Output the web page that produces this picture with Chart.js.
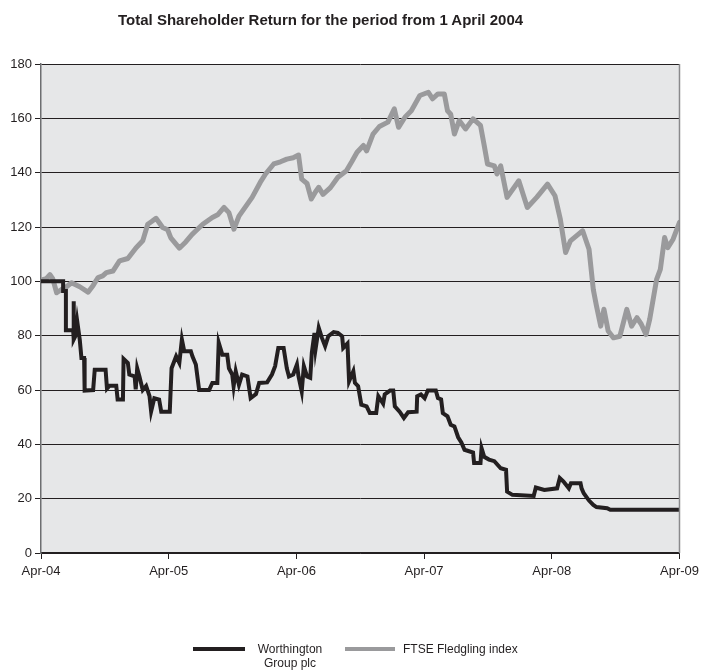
<!DOCTYPE html>
<html>
<head>
<meta charset="utf-8">
<script src="https://cdn.jsdelivr.net/npm/chart.js@4/dist/chart.umd.min.js"></script>
<style>
  html, body { margin: 0; padding: 0; background: #fff; }
  #wrap { position: relative; width: 704px; height: 670px; font-family: "Liberation Sans", Arial, sans-serif; color: #231f20; }
  #c { position: absolute; left: 0; top: 0; }
  #title { position: absolute; left: 118px; top: 11px; font-weight: bold; font-size: 15px; white-space: nowrap; }
  .sw { position: absolute; height: 4px; }
  .lt { position: absolute; font-size: 12px; line-height: 14px; white-space: nowrap; }
</style>
</head>
<body>
<div id="wrap">
  <canvas id="c" width="704" height="670"></canvas>
  <div id="title">Total Shareholder Return for the period from 1 April 2004</div>
  <div class="sw" style="left:193px;top:647px;width:52px;background:#231f20"></div>
  <div class="lt" style="left:249px;top:642px;width:82px;text-align:center">Worthington<br>Group plc</div>
  <div class="sw" style="left:345px;top:647px;width:50px;background:#9a9a9c"></div>
  <div class="lt" style="left:403px;top:642px">FTSE Fledgling index</div>
</div>
<script>
// x values are months since 1 April 2004
const tickLabels = ['Apr-04', 'Apr-05', 'Apr-06', 'Apr-07', 'Apr-08', 'Apr-09'];
const yTicks = [0, 20, 40, 60, 80, 100, 120, 140, 160, 180];

const worthMonths = [0, 2.08, 2.08, 2.34, 2.34, 3.02, 3.05, 3.1, 3.25, 3.4, 3.64, 3.8, 4.05, 4.1, 4.9, 5.05, 6.07, 6.2, 6.45, 7.07, 7.2, 7.7, 7.76, 8.16, 8.3, 8.8, 8.9, 9.04, 9.25, 9.56, 9.88, 10.2, 10.35, 10.65, 11.1, 11.3, 12.1, 12.27, 12.7, 13, 13.24, 13.46, 14.08, 14.23, 14.55, 14.86, 15.8, 16.1, 16.57, 16.7, 17.04, 17.5, 17.66, 17.97, 18.1, 18.3, 18.6, 18.9, 19.4, 19.7, 20.2, 20.5, 21.25, 21.7, 22, 22.3, 22.8, 23.1, 23.3, 23.7, 24.05, 24.2, 24.5, 24.7, 25, 25.3, 25.45, 25.7, 25.8, 26.1, 26.4, 26.7, 27, 27.5, 27.9, 28.3, 28.4, 28.8, 28.95, 29.35, 29.5, 29.8, 30.1, 30.6, 30.9, 31.5, 31.7, 32.15, 32.3, 32.8, 33.1, 33.25, 33.7, 34.1, 34.5, 35.3, 35.35, 35.7, 36.05, 36.35, 37.1, 37.3, 37.6, 37.76, 38.2, 38.5, 38.85, 39.2, 39.5, 39.8, 40.6, 40.7, 41.3, 41.4, 41.65, 42.1, 42.6, 43.2, 43.7, 43.8, 44.3, 46.3, 46.5, 47.3, 48.5, 48.75, 49.1, 49.6, 49.8, 50.7, 50.8, 51, 51.5, 51.9, 52.2, 53.2, 53.5, 60];
const worthValues = [100, 100, 96.4, 96.4, 82, 82, 92.7, 78.6, 80, 85.4, 78.6, 71.8, 71.8, 59.8, 60, 67.5, 67.5, 60.5, 61.6, 61.6, 56.5, 56.5, 71.5, 70, 65.7, 65, 60.2, 68, 65, 60, 61.5, 57.7, 52.1, 57, 56.5, 52, 52, 68, 72.4, 70, 78.6, 74.3, 74.3, 72.4, 69.4, 60, 60, 62.6, 62.6, 77.4, 73, 73, 68, 65.7, 61.4, 66.9, 61.9, 65.7, 65, 57, 58.5, 62.6, 62.8, 65.7, 68.8, 75.5, 75.5, 68, 65, 65.7, 69.4, 65, 59.5, 68.8, 65, 64.5, 73.7, 81, 75, 82.9, 79.2, 76.1, 79.8, 81.3, 81, 79.8, 75.5, 77.1, 63.2, 66.9, 62.6, 61.4, 54.6, 54, 51.5, 51.5, 57.7, 55, 58.4, 59.8, 59.8, 54, 52, 49.7, 51.8, 52, 57.7, 58.4, 57, 59.8, 59.8, 57, 56.5, 51.5, 50.3, 47.2, 46.6, 42.6, 40.7, 38, 37, 33.1, 33.1, 38.6, 35.4, 34.4, 33.8, 31.2, 30.6, 22.6, 21.4, 21, 24.1, 23.2, 23.8, 27.6, 26.3, 23.8, 25.7, 25.7, 23.8, 22, 19.3, 17.7, 16.9, 16.5, 15.9, 15.9];

const ftseMonths = [0, 0.5, 0.84, 1.1, 1.47, 1.93, 2.4, 2.87, 3.64, 4.42, 4.9, 5.36, 5.8, 6.14, 6.76, 7.38, 8.16, 8.94, 9.56, 10.03, 10.4, 10.81, 11.43, 11.9, 12.2, 13, 13.6, 14.2, 15.2, 16.1, 16.6, 17.2, 17.66, 18.13, 18.6, 19.84, 20.6, 21.1, 21.87, 22.5, 23.1, 23.7, 24.2, 24.5, 25, 25.4, 25.8, 26.1, 26.5, 27.2, 27.9, 28.7, 29.2, 29.7, 30.3, 30.6, 31.2, 31.8, 32.6, 33.2, 33.6, 34.2, 34.8, 35.6, 36.4, 36.8, 37.3, 37.9, 38.2, 38.5, 38.85, 39.3, 39.9, 40.6, 41.3, 41.65, 41.96, 42.6, 42.85, 43.2, 43.8, 44.9, 45.7, 46.6, 47.6, 48.3, 48.8, 49.3, 49.75, 50.4, 50.9, 51.5, 51.9, 52.2, 52.6, 52.9, 53.3, 53.8, 54.4, 55.05, 55.5, 56, 56.4, 56.85, 57.2, 57.85, 58.2, 58.6, 58.9, 59.4, 60];
const ftseValues = [100.5, 101, 102.5, 101, 95.8, 97, 98, 99.5, 98, 96, 98.5, 101.4, 102, 103.2, 103.8, 107.5, 108.4, 112.4, 114.9, 121, 122, 123.2, 119.8, 119, 116, 112.2, 114.5, 117.3, 121, 123.5, 124.5, 127.2, 125.3, 119.2, 124, 130.9, 136.4, 139.5, 143.2, 144, 145, 145.5, 146.5, 137.6, 136, 130.3, 133, 134.6, 132, 134.5, 138.3, 140.7, 144, 147.5, 150, 148, 154.2, 157, 158.6, 163.5, 156.7, 160.4, 162.8, 168.4, 169.6, 167.2, 169, 169, 162.8, 161.5, 154.2, 159.2, 156.1, 159.8, 157.4, 150, 143.2, 142.5, 139.5, 142.5, 130.9, 137, 127.2, 131, 135.8, 131.5, 122.9, 110.6, 114.9, 117, 118.6, 111.8, 97, 90.9, 83.5, 89.7, 81.7, 79.2, 79.8, 89.7, 83.5, 86.6, 84.3, 80.4, 86, 100.7, 104.4, 116.1, 112.4, 115.5, 121.7];

const toPoints = (xs, ys) => xs.map((x, i) => ({ x: x, y: ys[i] }));

const plotBg = {
  id: 'plotBg',
  beforeDraw(chart) {
    const { ctx, chartArea: a } = chart;
    ctx.save();
    ctx.fillStyle = '#e6e7e8';
    ctx.fillRect(a.left, a.top, a.right - a.left, a.bottom - a.top);
    ctx.restore();
  },
  afterDatasetsDraw(chart) {
    const { ctx, chartArea: a } = chart;
    ctx.save();
    ctx.strokeStyle = '#8a8a8c';
    ctx.lineWidth = 1.5;
    ctx.beginPath();
    ctx.moveTo(a.right, a.top);
    ctx.lineTo(a.right, a.bottom);
    ctx.stroke();
    ctx.restore();
  }
};

new Chart(document.getElementById('c'), {
  type: 'line',
  data: {
    datasets: [
      {
        label: 'Worthington Group plc',
        data: toPoints(worthMonths, worthValues),
        borderColor: '#231f20',
        borderWidth: 4,
        pointRadius: 0,
        tension: 0,
        fill: false
      },
      {
        label: 'FTSE Fledgling index',
        data: toPoints(ftseMonths, ftseValues),
        borderColor: '#9a9a9c',
        borderWidth: 5,
        borderJoinStyle: 'round',
        borderCapStyle: 'round',
        pointRadius: 0,
        tension: 0,
        fill: false
      }
    ]
  },
  options: {
    responsive: false,
    animation: false,
    events: [],
    layout: { padding: { top: 64, right: 21, left: 0, bottom: 0 } },
    plugins: { legend: { display: false }, title: { display: false }, tooltip: { enabled: false } },
    scales: {
      x: {
        type: 'linear',
        min: 0,
        max: 60,
        afterFit(s) { s.height = 117; },
        afterBuildTicks(s) { s.ticks = tickLabels.map((_, i) => ({ value: i * 12 })); },
        ticks: {
          callback: (v) => tickLabels[Math.round(v / 12)],
          font: { family: '"Liberation Sans", Arial, sans-serif', size: 13 },
          color: '#231f20',
          maxRotation: 0,
          autoSkip: false,
          padding: 5
        },
        grid: { display: true, drawOnChartArea: false, drawTicks: true, tickLength: 6, tickColor: '#231f20', tickWidth: 1 },
        border: { display: true, color: '#231f20', width: 1.5 }
      },
      y: {
        min: 0,
        max: 180,
        afterFit(s) { s.width = 41; },
        afterBuildTicks(s) { s.ticks = yTicks.map(v => ({ value: v })); },
        ticks: {
          font: { family: '"Liberation Sans", Arial, sans-serif', size: 13 },
          color: '#231f20',
          padding: 3
        },
        grid: { color: '#231f20', lineWidth: 1, drawTicks: true, tickLength: 6, tickColor: '#231f20' },
        border: { display: true, color: '#6d6e70', width: 1.5 }
      }
    }
  },
  plugins: [plotBg]
});
</script>
</body>
</html>
